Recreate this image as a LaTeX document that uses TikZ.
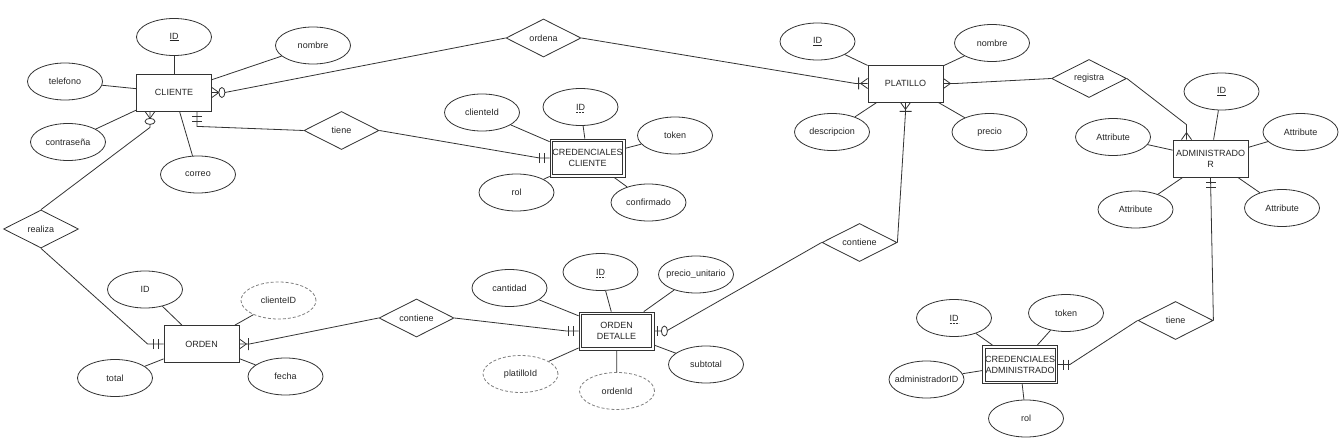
\documentclass[tikz,border=0pt]{standalone}
\usepackage{fontspec}
\setmainfont{Liberation Sans}
\usetikzlibrary{shapes.geometric,calc}
\newcommand\ctext[1]{\makebox[0pt]{#1}}
\tikzset{
  conn/.style={draw=black!80, line width=0.8pt},
  ent/.style={conn, rectangle, minimum width=75pt, minimum height=37pt, inner sep=0pt, align=center},
  weak/.style={ent, minimum height=38pt},
  attr/.style={conn, ellipse, minimum width=75pt, minimum height=37pt, inner sep=0pt},
  dattr/.style={attr, draw=black!50, dash pattern=on 3pt off 2pt},
  rel/.style={conn, diamond, shape aspect=2, minimum width=75pt, minimum height=38pt, inner sep=0pt},
  dul/.style={draw=black!80, line width=0.6pt, dash pattern=on 2pt off 1pt},
  erOne/.pic={\draw[conn] (5,-5)--(5,5) (10,-5)--(10,5);},
  erMany/.pic={\draw[conn] (0,-5)--(7,0)--(0,5);},
  erOneMany/.pic={\draw[conn] (0,-5)--(7,0)--(0,5) (9,-6)--(9,6);},
  erZeroMany/.pic={\draw[conn] (0,-5)--(7,0)--(0,5); \draw[conn,fill=white] (10,0) ellipse [x radius=3, y radius=5];},
  erZeroOne/.pic={\draw[conn] (3,-5)--(3,5); \draw[conn,fill=white] (10,0) ellipse [x radius=3, y radius=5];},
}
\begin{document}
\begin{tikzpicture}[x=1pt,y=-1pt,
  every node/.append style={font=\fontsize{9}{11}\selectfont, text=black!85}]
\fill[white] (0,0) rectangle (1343,441);
\useasboundingbox (0,0) rectangle (1343,441);

% ---------------- CLIENTE ----------------
\node[ent] (cli) at (174,92.5) {CLIENTE};
\node[attr] (cliID) at (174,37) {\ctext{\underline{ID}}};
\node[attr] (tel) at (65,81.5) {\ctext{telefono}};
\node[attr] (cnom) at (313,45.5) {\ctext{nombre}};
\node[attr] (pass) at (68,142) {\ctext{contraseña}};
\node[attr] (mail) at (198,174.5) {\ctext{correo}};
\foreach \a in {cliID,tel,cnom,pass,mail} \draw[conn] (\a) -- (cli);

% ---------------- CREDENCIALES CLIENTE ----------------
\node[weak] (credc) at (587.5,158) {CREDENCIALES\\CLIENTE};
\draw[conn] ($(credc.north west)+(3,3)$) rectangle ($(credc.south east)+(-3,-3)$);
\node[attr] (ccid) at (482,112.5) {\ctext{clienteId}};
\node[attr] (ccID) at (580.5,107) {\ctext{ID}};
\draw[dul] ($(ccID.center)+(-4.5,5)$) -- ($(ccID.center)+(4.5,5)$);
\node[attr] (cctok) at (675,135.5) {\ctext{token}};
\node[attr] (ccrol) at (516.5,192.5) {\ctext{rol}};
\node[attr] (cconf) at (648.5,202.5) {\ctext{confirmado}};
\foreach \a in {ccid,ccID,cctok,ccrol,cconf} \draw[conn] (\a) -- (credc);

% ---------------- PLATILLO ----------------
\node[ent] (pla) at (905.5,83.5) {PLATILLO};
\node[attr] (pID) at (817.5,41.5) {\ctext{\underline{ID}}};
\node[attr] (pnom) at (992,43) {\ctext{nombre}};
\node[attr] (pdesc) at (832,132) {\ctext{descripcion}};
\node[attr] (pprec) at (989.5,132) {\ctext{precio}};
\foreach \a in {pID,pnom,pdesc,pprec} \draw[conn] (\a) -- (pla);

% ---------------- ADMINISTRADOR ----------------
\node[ent] (adm) at (1210.5,158.5) {ADMINISTRADO\\R};
\node[attr] (aID) at (1221.5,91.5) {\ctext{\underline{ID}}};
\node[attr] (aA1) at (1113,137) {\ctext{Attribute}};
\node[attr] (aA2) at (1300.5,132) {\ctext{Attribute}};
\node[attr] (aA3) at (1135.5,209.5) {\ctext{Attribute}};
\node[attr] (aA4) at (1282,208) {\ctext{Attribute}};
\foreach \a in {aID,aA1,aA2,aA3,aA4} \draw[conn] (\a) -- (adm);

% ---------------- CREDENCIALES ADMINISTRADOR ----------------
\node[weak] (cra) at (1020,364.5) {CREDENCIALES\\ADMINISTRADO};
\draw[conn] ($(cra.north west)+(3,3)$) rectangle ($(cra.south east)+(-3,-3)$);
\node[attr] (caID) at (954,318) {\ctext{ID}};
\draw[dul] ($(caID.center)+(-4.5,5)$) -- ($(caID.center)+(4.5,5)$);
\node[attr] (catok) at (1066,313) {\ctext{token}};
\node[attr] (caadm) at (926.5,379.5) {\ctext{administradorID}};
\node[attr] (carol) at (1026,418.5) {\ctext{rol}};
\foreach \a in {caID,catok,caadm,carol} \draw[conn] (\a) -- (cra);

% ---------------- ORDEN ----------------
\node[ent] (ord) at (201.5,344) {ORDEN};
\node[attr] (oID) at (145,289.5) {\ctext{ID}};
\node[dattr] (ocli) at (278.5,300.5) {\ctext{clienteID}};
\node[attr] (otot) at (115,378) {\ctext{total}};
\node[attr] (ofec) at (285.5,376.5) {\ctext{fecha}};
\foreach \a in {oID,ocli,otot,ofec} \draw[conn] (\a) -- (ord);

% ---------------- ORDEN DETALLE ----------------
\node[weak] (od) at (616.5,331) {ORDEN\\DETALLE};
\draw[conn] ($(od.north west)+(3,3)$) rectangle ($(od.south east)+(-3,-3)$);
\node[attr] (odID) at (600.5,272) {\ctext{ID}};
\draw[dul] ($(odID.center)+(-4.5,5)$) -- ($(odID.center)+(4.5,5)$);
\node[attr] (odcant) at (509.5,288) {\ctext{cantidad}};
\node[attr] (odprec) at (696,274.5) {\ctext{precio\_unitario}};
\node[dattr] (odplat) at (520.5,374) {\ctext{platilloId}};
\node[dattr] (odord) at (617,391) {\ctext{ordenId}};
\node[attr] (odsub) at (706,364.5) {\ctext{subtotal}};
\foreach \a in {odID,odcant,odprec,odplat,odord,odsub} \draw[conn] (\a) -- (od);

% ---------------- relationships ----------------
\node[rel] (ordena) at (543.5,38) {ordena};
\node[rel] (tiene1) at (341.5,130.5) {tiene};
\node[rel] (realiza) at (41,229) {realiza};
\node[rel] (cont1) at (416.5,318) {contiene};
\node[rel] (cont2) at (859.5,242.5) {contiene};
\node[rel] (reg) at (1089,78.5) {registra};
\node[rel] (tiene2) at (1175.5,320.5) {tiene};

% ---------------- connectors ----------------
\draw[conn] (cli.east) -- ($(cli.east)+(13,0)$) -- (ordena.west);
\draw[conn] (ordena.east) -- ($(pla.west)+(-12,0)$) -- (pla.west);
\draw[conn] ($(cli.south)+(23,0)$) -- ($(cli.south)+(23,15)$) -- (tiene1.west);
\draw[conn] (tiene1.east) -- ($(credc.west)+(-10,0)$) -- (credc.west);
\draw[conn] ($(cli.south)+(-24,0)$) -- ($(cli.south)+(-24,16)$) -- (realiza.north);
\draw[conn] (realiza.south) -- ($(ord.west)+(-16,0)$) -- (ord.west);
\draw[conn] (ord.east) -- ($(ord.east)+(10,0)$) -- (cont1.west);
\draw[conn] (cont1.east) -- ($(od.west)+(-12,0)$) -- (od.west);
\draw[conn] (od.east) -- ($(od.east)+(12,0)$) -- (cont2.west);
\draw[conn] (cont2.east) -- ($(pla.south)+(0,10)$) -- (pla.south);
\draw[conn] (pla.east) -- ($(pla.east)+(12,0)$) -- (reg.west);
\draw[conn] (reg.east) -- ($(adm.north)+(-24,-15)$) -- ($(adm.north)+(-24,0)$);
\draw[conn] (adm.south) -- (tiene2.east);
\draw[conn] (tiene2.west) -- ($(cra.east)+(12,0)$) -- (cra.east);

% ---------------- cardinality markers ----------------
\pic at (cli.east) {erZeroMany};
\pic[rotate=-90] at ($(cli.south)+(-24,0)$) {erZeroMany};
\pic[rotate=-90] at ($(cli.south)+(23,0)$) {erOne};
\pic[rotate=180] at (credc.west) {erOne};
\pic[rotate=180] at (ord.west) {erOne};
\pic at (ord.east) {erOneMany};
\pic[rotate=180] at (od.west) {erOne};
\pic at (od.east) {erZeroOne};
\pic[rotate=180] at (pla.west) {erOneMany};
\pic at (pla.east) {erMany};
\pic[rotate=-90] at (pla.south) {erOneMany};
\pic[rotate=90] at ($(adm.north)+(-24,0)$) {erMany};
\pic[rotate=-90] at (adm.south) {erOne};
\pic at (cra.east) {erOne};
\end{tikzpicture}
\end{document}
